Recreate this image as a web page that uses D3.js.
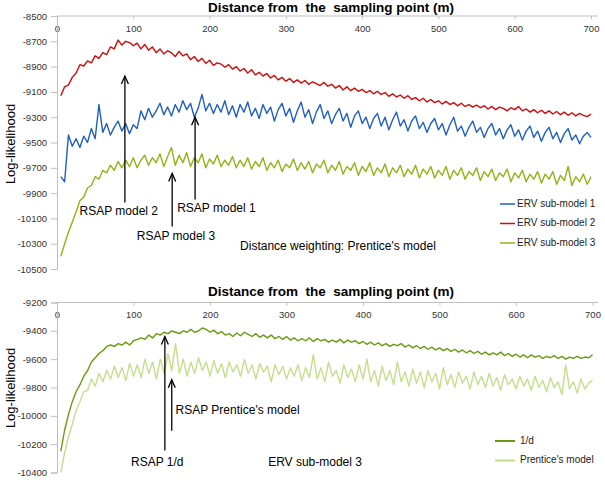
<!DOCTYPE html>
<html><head><meta charset="utf-8">
<script src="https://cdn.jsdelivr.net/npm/d3@7"></script>
<style>body{margin:0;background:#fff}svg{display:block}</style>
</head><body>
<script>
const distances = d3.range(5, 705, 5);
const erv1 = [-9770,-9810,-9440,-9530,-9470,-9540,-9450,-9500,-9390,-9470,-9200,-9420,-9350,-9440,-9380,-9330,-9410,-9350,-9430,-9360,-9390,-9250,-9320,-9230,-9300,-9250,-9190,-9280,-9220,-9290,-9200,-9260,-9170,-9240,-9190,-9300,-9230,-9120,-9250,-9190,-9270,-9200,-9260,-9170,-9280,-9210,-9300,-9200,-9260,-9180,-9290,-9230,-9310,-9200,-9270,-9220,-9330,-9240,-9190,-9290,-9230,-9340,-9250,-9180,-9300,-9240,-9350,-9260,-9200,-9310,-9250,-9350,-9280,-9230,-9330,-9270,-9380,-9290,-9250,-9350,-9300,-9390,-9310,-9270,-9370,-9300,-9400,-9320,-9260,-9370,-9320,-9410,-9330,-9290,-9390,-9340,-9420,-9350,-9310,-9400,-9350,-9440,-9360,-9300,-9410,-9370,-9450,-9380,-9330,-9420,-9380,-9460,-9390,-9350,-9440,-9390,-9470,-9400,-9360,-9450,-9400,-9480,-9410,-9370,-9460,-9410,-9490,-9420,-9380,-9470,-9420,-9500,-9430,-9390,-9480,-9440,-9510,-9450,-9420,-9460];
const erv2 = [-9130,-9060,-9045,-8985,-8950,-8885,-8895,-8855,-8870,-8815,-8835,-8790,-8805,-8745,-8760,-8690,-8730,-8700,-8710,-8735,-8715,-8760,-8725,-8770,-8745,-8790,-8760,-8800,-8775,-8790,-8820,-8780,-8815,-8800,-8845,-8820,-8860,-8835,-8875,-8850,-8890,-8870,-8880,-8905,-8885,-8920,-8900,-8935,-8915,-8950,-8925,-8965,-8945,-8975,-8955,-8990,-8970,-9005,-8985,-9015,-8995,-9025,-9005,-9030,-9010,-9040,-9020,-9035,-9050,-9025,-9055,-9040,-9070,-9050,-9085,-9060,-9090,-9070,-9095,-9080,-9105,-9090,-9115,-9095,-9120,-9105,-9135,-9115,-9140,-9125,-9150,-9130,-9160,-9145,-9170,-9150,-9180,-9160,-9185,-9170,-9195,-9175,-9200,-9185,-9210,-9190,-9215,-9200,-9220,-9205,-9225,-9210,-9235,-9215,-9240,-9220,-9230,-9250,-9225,-9240,-9215,-9250,-9235,-9260,-9240,-9265,-9245,-9270,-9250,-9275,-9255,-9280,-9260,-9285,-9265,-9290,-9270,-9285,-9295,-9275];
const erv3 = [-10400,-10300,-10210,-10130,-10050,-9960,-9930,-9860,-9840,-9770,-9790,-9720,-9740,-9680,-9720,-9650,-9700,-9640,-9690,-9620,-9700,-9640,-9600,-9680,-9620,-9660,-9590,-9690,-9610,-9540,-9680,-9600,-9660,-9580,-9690,-9620,-9660,-9590,-9700,-9630,-9670,-9600,-9690,-9640,-9680,-9610,-9700,-9640,-9690,-9620,-9710,-9650,-9690,-9620,-9720,-9660,-9700,-9640,-9730,-9670,-9700,-9630,-9720,-9660,-9710,-9650,-9740,-9670,-9700,-9640,-9740,-9680,-9720,-9650,-9750,-9690,-9720,-9660,-9760,-9690,-9730,-9660,-9760,-9700,-9740,-9670,-9770,-9700,-9740,-9680,-9770,-9710,-9750,-9680,-9780,-9710,-9750,-9690,-9780,-9720,-9760,-9690,-9790,-9720,-9760,-9700,-9790,-9730,-9760,-9700,-9800,-9730,-9770,-9710,-9800,-9740,-9770,-9710,-9810,-9740,-9780,-9720,-9810,-9750,-9790,-9730,-9820,-9750,-9790,-9730,-9830,-9760,-9800,-9690,-9840,-9770,-9810,-9750,-9830,-9770];
const invD = [-10250,-10100,-9990,-9900,-9830,-9780,-9720,-9680,-9620,-9590,-9560,-9540,-9510,-9500,-9510,-9490,-9500,-9480,-9500,-9470,-9460,-9450,-9460,-9430,-9450,-9420,-9430,-9410,-9420,-9400,-9410,-9420,-9400,-9410,-9390,-9410,-9400,-9380,-9390,-9410,-9395,-9420,-9405,-9430,-9420,-9440,-9415,-9435,-9410,-9425,-9440,-9420,-9445,-9430,-9450,-9430,-9455,-9440,-9460,-9440,-9465,-9450,-9470,-9455,-9470,-9450,-9475,-9455,-9470,-9460,-9480,-9465,-9480,-9460,-9485,-9465,-9480,-9470,-9490,-9475,-9495,-9480,-9500,-9485,-9505,-9490,-9510,-9495,-9505,-9490,-9515,-9500,-9520,-9505,-9525,-9510,-9530,-9515,-9535,-9520,-9540,-9525,-9545,-9530,-9550,-9535,-9555,-9540,-9560,-9545,-9565,-9550,-9570,-9555,-9570,-9550,-9575,-9560,-9580,-9565,-9585,-9570,-9590,-9570,-9585,-9575,-9595,-9580,-9590,-9575,-9595,-9580,-9600,-9585,-9595,-9580,-9595,-9585,-9590,-9570];
const prentice = [-10400,-10260,-10150,-10060,-9960,-9900,-9830,-9820,-9740,-9790,-9700,-9760,-9680,-9740,-9650,-9730,-9660,-9750,-9630,-9720,-9640,-9730,-9600,-9700,-9620,-9740,-9600,-9700,-9560,-9680,-9490,-9700,-9600,-9720,-9620,-9700,-9590,-9680,-9620,-9720,-9610,-9700,-9630,-9730,-9620,-9690,-9640,-9720,-9600,-9700,-9640,-9740,-9630,-9690,-9650,-9760,-9640,-9710,-9650,-9740,-9660,-9720,-9640,-9750,-9660,-9730,-9570,-9740,-9660,-9760,-9620,-9720,-9680,-9770,-9640,-9730,-9670,-9760,-9640,-9740,-9600,-9760,-9680,-9790,-9650,-9750,-9680,-9780,-9620,-9760,-9690,-9790,-9670,-9770,-9690,-9800,-9680,-9760,-9700,-9810,-9660,-9780,-9710,-9800,-9690,-9770,-9720,-9810,-9690,-9780,-9720,-9800,-9700,-9790,-9730,-9820,-9710,-9780,-9740,-9810,-9720,-9790,-9740,-9820,-9720,-9800,-9750,-9830,-9730,-9800,-9760,-9850,-9640,-9810,-9760,-9840,-9740,-9810,-9770,-9750];

const xTicks = [0,100,200,300,400,500,600,700];
const yTicksTop = [-8500,-8700,-8900,-9100,-9300,-9500,-9700,-9900,-10100,-10300,-10500];
const yTicksBot = [-9200,-9400,-9600,-9800,-10000,-10200,-10400];
const xTitle = "Distance from\u00a0 the\u00a0 sampling point (m)";
const yTitle = "Log-likelihood";
const topSeries = [
  {name:"ERV sub-model 1", values:erv1, color:"#1f5fc0"},
  {name:"ERV sub-model 2", values:erv2, color:"#d10a0a"},
  {name:"ERV sub-model 3", values:erv3, color:"#8fb416"}
];
const botSeries = [
  {name:"1/d", values:invD, color:"#6a9a0e"},
  {name:"Prentice's model", values:prentice, color:"#c4de8c"}
];
const topArrows = [
  {x:89, y0:-9975, y1:-8975},
  {x:181, y0:-9950, y1:-9300},
  {x:151, y0:-10165, y1:-9745}
];
const topLabels = [
  {text:"RSAP model 2", x:81, y:-10049},
  {text:"RSAP model 1", x:209, y:-10026},
  {text:"RSAP model 3", x:156, y:-10247},
  {text:"Distance weighting: Prentice's model", x:240, y:-10326, anchor:"start"}
];
const botArrows = [
  {x:141, y0:-10245, y1:-9440},
  {x:150, y0:-10105, y1:-9745}
];
const botLabels = [
  {text:"RSAP Prentice's model", x:155, y:-9966, anchor:"start"},
  {text:"RSAP 1/d", x:131, y:-10333},
  {text:"ERV sub-model 3", x:276, y:-10333, anchor:"start"}
];

const W = 605, H = 485;
const svg = d3.select("body").append("svg").attr("width", W).attr("height", H);
const FONT = "'Liberation Sans', Arial, sans-serif";

function panel(opts) {
  const {x, y, series, yTicks, arrows, labels, titleY, yLabelY, legend} = opts;
  const g = svg.append("g");
  g.append("text").attr("x", 331).attr("y", titleY).attr("text-anchor", "middle")
    .attr("font-family", FONT).attr("font-weight", "bold").attr("font-size", 13.5).attr("fill", "#000").text(xTitle);
  const xa = g.append("g").attr("transform", `translate(0,${y.range()[1]})`)
    .call(d3.axisBottom(x).tickValues(xTicks).tickSize(3).tickPadding(6).tickFormat(d => d));
  xa.select(".domain").attr("stroke", "#bfbfbf").attr("d", `M${x.range()[0]},0H598`);
  xa.selectAll(".tick line").attr("stroke", "#bfbfbf");
  xa.selectAll("text").attr("font-family", FONT).attr("font-size", 9.5).attr("fill", "#333");
  const ya = g.append("g").attr("transform", `translate(${x.range()[0]},0)`)
    .call(d3.axisLeft(y).tickValues(yTicks).tickSize(6).tickPadding(4).tickFormat(d => String(d)));
  ya.select(".domain").attr("stroke", "#bfbfbf");
  ya.selectAll(".tick line").attr("stroke", "#bfbfbf");
  ya.selectAll("text").attr("font-family", FONT).attr("font-size", 9.5).attr("fill", "#333");
  g.append("text").attr("transform", `translate(15,${yLabelY}) rotate(-90)`).attr("text-anchor", "middle")
    .attr("font-family", FONT).attr("font-size", 13).attr("fill", "#000").text(yTitle);
  const line = d3.line().x((d, i) => x(distances[i])).y(d => y(d));
  series.forEach(s => {
    g.append("path").attr("d", line(s.values)).attr("fill", "none")
      .attr("stroke", s.color).attr("stroke-width", 1.4).attr("stroke-linejoin", "round");
  });
  arrows.forEach(a => {
    const px = x(a.x), yb = y(a.y0), yt = y(a.y1);
    g.append("line").attr("x1", px).attr("x2", px).attr("y1", yb).attr("y2", yt)
      .attr("stroke", "#000").attr("stroke-width", 1.3);
    g.append("path").attr("d", `M${px-3.5},${yt+8}L${px},${yt}L${px+3.5},${yt+8}`)
      .attr("fill", "none").attr("stroke", "#000").attr("stroke-width", 1.3);
  });
  labels.forEach(l => {
    g.append("text").attr("x", x(l.x)).attr("y", y(l.y)).attr("text-anchor", l.anchor || "middle")
      .attr("dominant-baseline", "middle")
      .attr("font-family", FONT).attr("font-size", 12).attr("fill", "#000").text(l.text);
  });
  series.forEach((s, i) => {
    const ly = legend.y + i * legend.dy;
    g.append("line").attr("x1", legend.x0).attr("x2", legend.x1).attr("y1", ly).attr("y2", ly)
      .attr("stroke", s.color).attr("stroke-width", legend.w);
    g.append("text").attr("x", legend.tx).attr("y", ly).attr("dominant-baseline", "middle")
      .attr("font-family", FONT).attr("font-size", 10).attr("fill", "#222").text(s.name);
  });
}

const xTop = d3.scaleLinear().domain([0, 700]).range([57, 591]);
const yTop = d3.scaleLinear().domain([-10500, -8500]).range([269, 16]);
const xBot = d3.scaleLinear().domain([0, 700]).range([57, 592.5]);
const yBot = d3.scaleLinear().domain([-10400, -9200]).range([472.5, 302.5]);

panel({x:xTop, y:yTop, series:topSeries, yTicks:yTicksTop, arrows:topArrows, labels:topLabels,
  titleY:12, yLabelY:144, legend:{x0:500, x1:515, tx:517, y:204, dy:19.5, w:1.5}});
panel({x:xBot, y:yBot, series:botSeries, yTicks:yTicksBot, arrows:botArrows, labels:botLabels,
  titleY:296, yLabelY:388, legend:{x0:495, x1:515, tx:520, y:441, dy:19.5, w:2}});
</script>
</body></html>
